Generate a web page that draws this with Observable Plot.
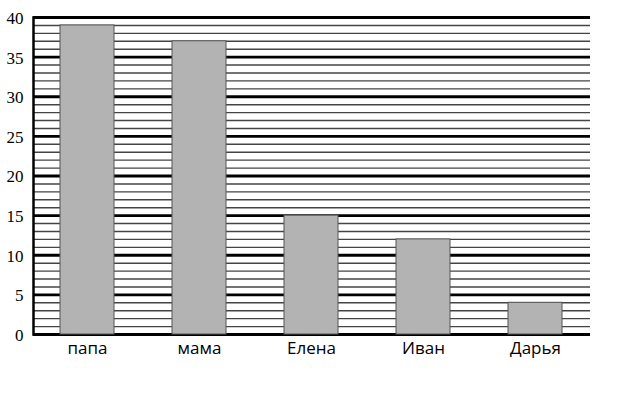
<!DOCTYPE html>
<html><head><meta charset="utf-8">
<script src="https://cdn.jsdelivr.net/npm/d3@7"></script>
<script src="https://cdn.jsdelivr.net/npm/@observablehq/plot@0.6"></script>
<style>
body{margin:0;background:#fff;}
</style>
</head><body><div id="chart"></div>
<script>
const names = ["папа", "мама", "Елена", "Иван", "Дарья"];
const values = [39, 37, 15, 12, 4];
const yTicks = [0, 5, 10, 15, 20, 25, 30, 35, 40];
const minorTicks = d3.range(0, 41).filter(v => v % 5 !== 0);

const data = names.map((n, i) => ({name: n, value: values[i]}));

const chart = Plot.plot({
  width: 635,
  height: 405,
  marginTop: 17,
  marginBottom: 71,
  marginLeft: 33,
  marginRight: 45,
  style: {background: "#fff", overflow: "visible"},
  x: {domain: names, paddingInner: 0.515, paddingOuter: 0.24, label: null, axis: null},
  y: {domain: [0, 40], label: null, axis: null},
  marks: [
    Plot.ruleY(minorTicks, {stroke: "#444", strokeWidth: 1.4}),
    Plot.ruleY(yTicks, {stroke: "#000", strokeWidth: 2.8}),
    Plot.barY(data, {x: "name", y: "value", fill: "#b3b3b3", stroke: "#555", strokeWidth: 1}),
    Plot.frame({anchor: "left", stroke: "#000", strokeWidth: 2.5}),
    Plot.text(yTicks, {frameAnchor: "left", y: d => d, text: d => String(d), dx: -10, dy: 1, textAnchor: "end", fontFamily: "'Liberation Serif', 'Times New Roman', 'DejaVu Serif', serif", fontSize: 17, fill: "#000"}),
    Plot.text(names, {x: d => d, frameAnchor: "bottom", text: d => d, dy: 7, fontFamily: "'Open Sans', sans-serif", fontSize: 17, fill: "#000", lineAnchor: "top"})
  ]
});
document.getElementById("chart").appendChild(chart);
</script>
</body></html>
